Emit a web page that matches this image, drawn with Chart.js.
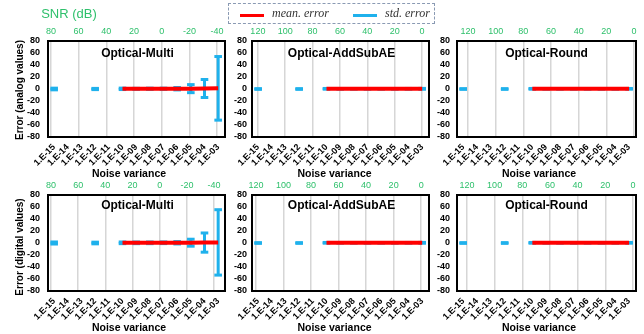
<!DOCTYPE html>
<html>
<head>
<meta charset="utf-8">
<script src="https://cdn.jsdelivr.net/npm/chart.js@4.4.0/dist/chart.umd.min.js"></script>
<style>
  body { margin:0; width:644px; height:334px; background:#fff; position:relative; overflow:hidden;
         font-family:"Liberation Sans", Arial, sans-serif; color:#000; }
  canvas { position:absolute; }
  .t { position:absolute; white-space:nowrap; transform:translate(-50%,-50%); z-index:2; }
  .ptitle { font-weight:bold; font-size:12px; }
  .xtitle { font-weight:bold; font-size:10.5px; }
  .ytitle { font-weight:bold; font-size:10px; transform:translate(-50%,-50%) rotate(-90deg); }
  .snr { font-size:13px; color:#2fc06c; }
  #legend { position:absolute; left:228px; top:3px; width:205px; height:19px; border:1px dashed #8a9ab3; z-index:2; }
  .lline { position:absolute; top:10px; width:24px; height:2.5px; }
  .ltext { position:absolute; top:2px; font-family:"Liberation Serif", serif; font-style:italic; font-size:12px; color:#333; }
</style>
</head>
<body>
<canvas id="p1" width="232" height="155" style="left:0px;top:18px"></canvas>
<canvas id="p2" width="204" height="155" style="left:232px;top:18px"></canvas>
<canvas id="p3" width="208" height="155" style="left:436px;top:18px"></canvas>
<canvas id="p4" width="232" height="155" style="left:0px;top:172px"></canvas>
<canvas id="p5" width="204" height="155" style="left:232px;top:172px"></canvas>
<canvas id="p6" width="208" height="155" style="left:436px;top:172px"></canvas>

<div class="t snr" style="left:69px;top:13px">SNR (dB)</div>
<div id="legend">
  <div class="lline" style="left:11px;background:#ff0000"></div>
  <div class="ltext" style="left:43px">mean. error</div>
  <div class="lline" style="left:124px;background:#1fb1ec"></div>
  <div class="ltext" style="left:156px">std. error</div>
</div>

<div class="t ptitle" style="left:137.5px;top:53px">Optical-Multi</div>
<div class="t ptitle" style="left:341.5px;top:53px">Optical-AddSubAE</div>
<div class="t ptitle" style="left:546.5px;top:53px">Optical-Round</div>
<div class="t ptitle" style="left:137.5px;top:205px">Optical-Multi</div>
<div class="t ptitle" style="left:341.5px;top:205px">Optical-AddSubAE</div>
<div class="t ptitle" style="left:546.5px;top:205px">Optical-Round</div>

<div class="t xtitle" style="left:129px;top:173px">Noise variance</div>
<div class="t xtitle" style="left:334.5px;top:173px">Noise variance</div>
<div class="t xtitle" style="left:539px;top:173px">Noise variance</div>
<div class="t xtitle" style="left:129px;top:327px">Noise variance</div>
<div class="t xtitle" style="left:334.5px;top:327px">Noise variance</div>
<div class="t xtitle" style="left:539px;top:327px">Noise variance</div>

<div class="t ytitle" style="left:19px;top:89.5px">Error (analog values)</div>
<div class="t ytitle" style="left:19px;top:247px">Error (digital values)</div>

<script>
// x axis: noise variance (log), one tick per decade
const noiseVariance = [1e-15, 1e-14, 1e-13, 1e-12, 1e-11, 1e-10, 1e-9, 1e-8, 1e-7, 1e-6, 1e-5, 1e-4, 1e-3];
const varianceLabels = ['1.E-15', '1.E-14', '1.E-13', '1.E-12', '1.E-11', '1.E-10', '1.E-09',
                        '1.E-08', '1.E-07', '1.E-06', '1.E-05', '1.E-04', '1.E-03'];
// top axis SNR ticks (dB)
const snrTicksMulti = [80, 60, 40, 20, 0, -20, -40];
const snrTicksOther = [120, 100, 80, 60, 40, 20, 0];
// variances that were measured
const pointVariance = [1e-15, 1e-12, 1e-10, 1e-9, 1e-8, 1e-7, 1e-6, 1e-5, 1e-4, 1e-3];

// analog values
const multiAnalogMean  = [null, null, 0.3, 0.3, 0.4, 0.4, 0.5, 0.6, 0.8, 1.1];
const multiAnalogStd   = [1.4, 1.0, 1.2, 0.8, 1.0, 1.0, 2.0, 6.7, 15, 53];
const addSubAnalogMean = [null, null, 0.3, 0.3, 0.3, 0.3, 0.3, 0.3, 0.3, 0.3];
const addSubAnalogStd  = [0.6, 0.6, 0.6, 0.5, 0.5, 0.5, 0.5, 0.5, 0.6, 0.7];
const roundAnalogMean  = [null, null, 0.3, 0.3, 0.3, 0.3, 0.3, 0.3, 0.3, 0.3];
const roundAnalogStd   = [0.6, 0.6, 0.6, 0.5, 0.5, 0.5, 0.5, 0.5, 0.5, 0.6];
// digital values
const multiDigitalMean  = [null, null, 0.3, 0.3, 0.3, 0.4, 0.4, 0.5, 0.7, 1.0];
const multiDigitalStd   = [1.7, 1.4, 1.4, 1.4, 1.4, 1.4, 2.0, 5.8, 16, 54.5];
const addSubDigitalMean = [null, null, 0.3, 0.3, 0.3, 0.3, 0.3, 0.3, 0.3, 0.3];
const addSubDigitalStd  = [0.6, 0.6, 0.6, 0.5, 0.5, 0.5, 0.5, 0.5, 0.6, 0.7];
const roundDigitalMean  = [null, null, 0.3, 0.3, 0.3, 0.3, 0.3, 0.3, 0.3, 0.3];
const roundDigitalStd   = [0.6, 0.6, 0.6, 0.5, 0.5, 0.5, 0.5, 0.5, 0.5, 0.6];

const BLUE = '#1fb1ec', RED = '#ff0000', GREEN = '#2fc06c';
Chart.defaults.font.family = '"Liberation Sans", Arial, sans-serif';

// black box round the plot area
const frame = {
  id: 'frame',
  afterDatasetsDraw(chart) {
    const {ctx, chartArea: a} = chart;
    ctx.save();
    ctx.strokeStyle = '#000';
    ctx.lineWidth = 2;
    ctx.strokeRect(a.left, a.top, a.width, a.height);
    ctx.restore();
  }
};

function stems(mean, std) {
  const pts = [];
  pointVariance.forEach((x, i) => {
    const c = mean[i] ?? 0;
    pts.push({x: x, y: c - std[i]}, {x: x, y: c + std[i]}, {x: x, y: null});
  });
  return pts;
}

function caps(mean, std) {
  return pointVariance.flatMap((x, i) => {
    const c = mean[i] ?? 0;
    return [{x: x, y: c - std[i]}, {x: x, y: c + std[i]}];
  });
}

function makePanel(id, mean, std, snr, snrTicks, yw, yp, pr) {
  new Chart(document.getElementById(id), {
    type: 'line',
    data: {
      datasets: [
        { data: pointVariance.map((x, i) => ({x: x, y: mean[i]})), borderColor: RED, borderWidth: 4,
          pointRadius: 0, borderCapStyle: 'butt' },
        { data: caps(mean, std), showLine: false, pointStyle: 'line', pointRadius: 3.8,
          pointBorderWidth: 3, pointBorderColor: BLUE, pointBackgroundColor: BLUE },
        { data: stems(mean, std), borderColor: BLUE, borderWidth: 3, pointRadius: 0, spanGaps: false }
      ]
    },
    options: {
      responsive: false,
      animation: false,
      devicePixelRatio: 1,
      layout: { padding: { left: 0, top: 0, right: pr, bottom: 0 } },
      plugins: { legend: { display: false }, tooltip: { enabled: false } },
      scales: {
        x: {
          type: 'logarithmic', position: 'bottom', bounds: 'data',
          min: Math.pow(10, -15.45), max: Math.pow(10, -2.5),
          afterBuildTicks: s => { s.ticks = noiseVariance.map(v => ({value: v})); },
          afterFit: s => { s.height = 36; s.paddingLeft = 0; s.paddingRight = 0; },
          ticks: {
            autoSkip: false, minRotation: 45, maxRotation: 45, padding: 5,
            font: { size: 9, weight: 'bold' }, color: '#000',
            callback: v => varianceLabels[noiseVariance.indexOf(v)]
          },
          grid: { display: false, drawTicks: false }, border: { display: false }
        },
        x2: {
          type: 'linear', position: 'top', reverse: true, bounds: 'data',
          min: snr[0], max: snr[1],
          afterBuildTicks: s => { s.ticks = snrTicks.map(v => ({value: v})); },
          afterFit: s => { s.height = 23; s.paddingLeft = 0; s.paddingRight = 0; },
          ticks: { padding: 4, maxRotation: 0, autoSkip: false, font: { size: 9 }, color: GREEN },
          grid: { color: '#d6d6d6', lineWidth: 1.5, drawTicks: false }, border: { display: false }
        },
        y: {
          min: -80, max: 80,
          afterFit: s => { s.width = yw; },
          ticks: { stepSize: 20, autoSkip: false, padding: yp, font: { size: 9, weight: 'bold' }, color: '#000' },
          grid: { display: false, drawTicks: false }, border: { display: false }
        }
      }
    },
    plugins: [frame]
  });
}

makePanel('p1', multiAnalogMean,   multiAnalogStd,   [-45.7, 82.1], snrTicksMulti, 48, 8, 5);
makePanel('p2', addSubAnalogMean,  addSubAnalogStd,  [-5.1, 124.3], snrTicksOther, 20, 5, 5);
makePanel('p3', roundAnalogMean,   roundAnalogStd,   [-1.45, 128],  snrTicksOther, 21, 7, 8);
makePanel('p4', multiDigitalMean,  multiDigitalStd,  [-48, 82.2],   snrTicksMulti, 48, 8, 5);
makePanel('p5', addSubDigitalMean, addSubDigitalStd, [-5.7, 122.9], snrTicksOther, 20, 5, 5);
makePanel('p6', roundDigitalMean,  roundDigitalStd,  [-2.2, 127.2], snrTicksOther, 21, 7, 8);
</script>
</body>
</html>
